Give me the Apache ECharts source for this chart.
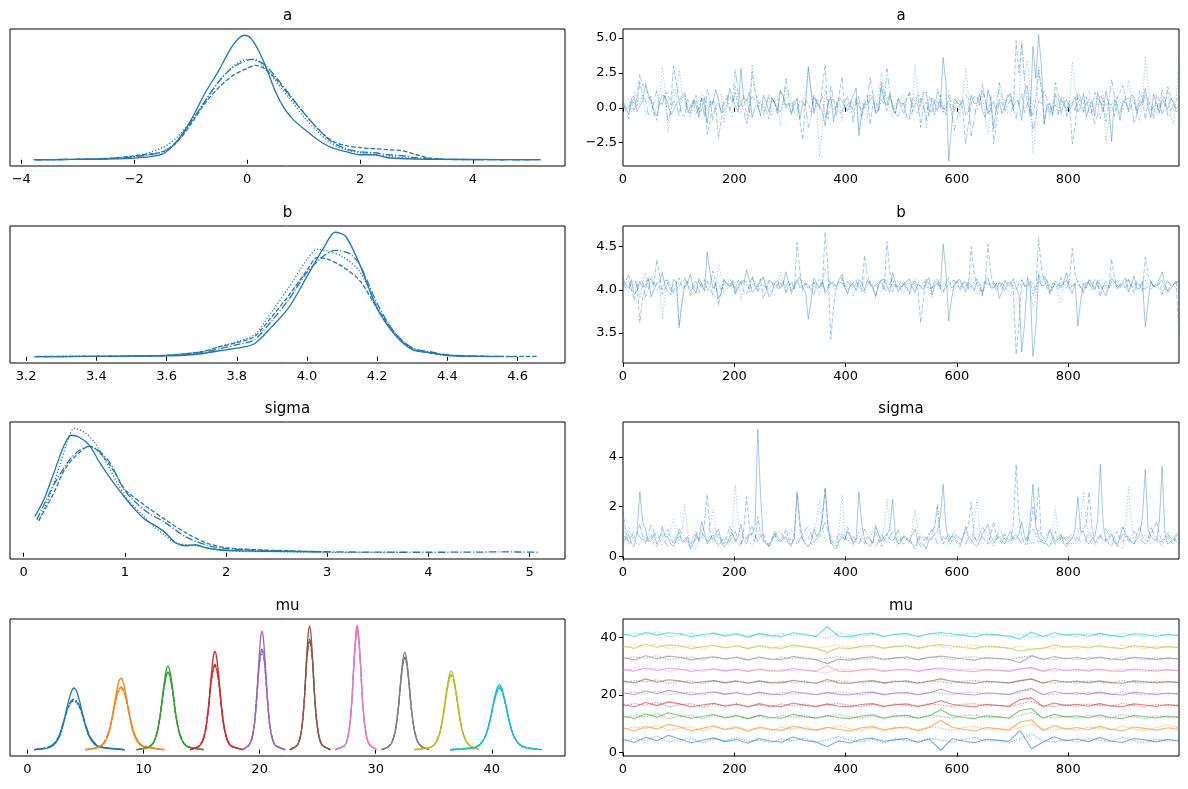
<!DOCTYPE html>
<html>
<head>
<meta charset="utf-8">
<script src="https://cdn.jsdelivr.net/npm/echarts@6/dist/echarts.min.js"></script>
<style>
html, body { margin: 0; padding: 0; background: #fff; }
#chart { width: 1188px; height: 789px; }
</style>
</head>
<body>
<div id="chart"></div>
<script>
var C0 = '#1f77b4';
var tab10 = ['#1f77b4', '#ff7f0e', '#2ca02c', '#d62728', '#9467bd', '#8c564b', '#e377c2', '#7f7f7f', '#bcbd22', '#17becf'];
// solid, dashed, dotted, dash-dot  (one per chain)
var chainDash = ['solid', [4.5, 2], [1.2, 2], [7.5, 2, 1.2, 2]];

// tick values
var aKdeTicks = [-4, -2, 0, 2, 4];
var bKdeTicks = [3.2, 3.4, 3.6, 3.8, 4.0, 4.2, 4.4, 4.6];
var sigmaKdeTicks = [0, 1, 2, 3, 4, 5];
var muKdeTicks = [0, 10, 20, 30, 40];
var drawTicks = [0, 200, 400, 600, 800];
var aTraceTicks = [-2.5, 0, 2.5, 5];
var bTraceTicks = [3.5, 4.0, 4.5];
var sigmaTraceTicks = [0, 2, 4];
var muTraceTicks = [0, 20, 40];

// ---- KDE per chain, [value, density] (relative units) ----
var aKde = [
  [[-3.78,0],[-3,0.3],[-2.5,0.7],[-2,1.7],[-1.5,5.7],[-1.25,18],[-1,39],[-0.75,66],[-0.5,89],[-0.3,110],[-0.15,121],[-0.05,124],[0.05,122],[0.2,109],[0.35,90],[0.5,68],[0.65,52],[0.8,41],[1,31],[1.25,20],[1.5,12],[1.75,8],[2,5],[2.25,5],[2.5,2],[3,0.7],[4,0.3],[5.2,0]],
  [[-3.7,0],[-3,0.5],[-2.5,1],[-2,4],[-1.5,8],[-1.25,17],[-1,35],[-0.75,56],[-0.5,72],[-0.25,84],[0,91],[0.15,94],[0.3,91],[0.5,81],[0.75,64],[1,47],[1.25,31],[1.5,19],[1.75,14],[2,12],[2.25,11],[2.5,10],[2.75,9],[3,5],[3.25,1.5],[3.5,0.5],[4,0.2],[4.6,0]],
  [[-3.6,0],[-3,0.5],[-2.5,1.5],[-2,3.5],[-1.5,12],[-1.25,22],[-1,38],[-0.75,58],[-0.5,78],[-0.25,93],[0,100],[0.1,100],[0.3,93],[0.5,79],[0.75,61],[1,43],[1.25,28],[1.5,16],[1.75,10],[2,7],[2.5,3.5],[3,1],[3.5,0.3],[4.2,0]],
  [[-3.75,0],[-3,0.5],[-2.5,1],[-2,3],[-1.5,8],[-1.25,18],[-1,37],[-0.75,58],[-0.5,78],[-0.25,92],[0,99],[0.1,100],[0.3,95],[0.5,83],[0.75,65],[1,47],[1.25,31],[1.5,18],[1.75,11],[2,8],[2.25,7],[2.5,5],[2.75,4],[3,2],[3.5,0.5],[4,0.2],[5,0]]
];
var bKde = [
  [[3.223,0],[3.3,0.2],[3.4,0.4],[3.5,0.6],[3.6,1],[3.65,1.5],[3.7,3],[3.75,6],[3.8,8.5],[3.85,13],[3.9,30],[3.95,50],[4,80],[4.05,110],[4.08,124],[4.11,120],[4.15,92],[4.2,48],[4.25,22],[4.3,7],[4.35,4],[4.4,1.5],[4.45,0.6],[4.53,0.2]],
  [[3.23,0.3],[3.4,0.5],[3.5,0.8],[3.6,1.5],[3.7,5],[3.75,10],[3.8,14],[3.85,20],[3.9,40],[3.95,62],[4,86],[4.03,99],[4.06,97],[4.1,90],[4.15,76],[4.2,48],[4.25,24],[4.3,8],[4.35,4],[4.4,1.5],[4.5,0.5],[4.66,0.3]],
  [[3.25,0],[3.4,0.4],[3.5,0.8],[3.6,1.5],[3.7,5],[3.75,10],[3.8,15],[3.85,22],[3.9,45],[3.95,70],[4,97],[4.03,107],[4.06,105],[4.1,100],[4.15,85],[4.2,50],[4.25,22],[4.3,8],[4.35,4],[4.4,1.3],[4.5,0.3]],
  [[3.25,0.2],[3.4,0.4],[3.5,0.7],[3.6,1.2],[3.7,4],[3.75,8],[3.8,12],[3.85,17],[3.9,36],[3.95,58],[4,84],[4.05,101],[4.08,106],[4.12,103],[4.15,92],[4.2,53],[4.25,24],[4.3,9],[4.35,5],[4.4,2],[4.5,0.5],[4.6,0.2]]
];
var sigmaKde = [
  [[0.11,36],[0.2,53],[0.3,80],[0.4,107],[0.47,117],[0.55,115],[0.65,107],[0.75,90],[0.9,68],[1,55],[1.1,43],[1.2,33],[1.3,27],[1.4,20],[1.5,10],[1.6,7],[1.7,8],[1.8,5],[2,2.3],[2.5,1.3],[2.94,0.8]],
  [[0.15,32],[0.3,60],[0.4,82],[0.5,95],[0.6,104],[0.65,106],[0.75,100],[0.9,80],[1,63],[1.2,47],[1.4,33],[1.6,20],[1.8,10],[2,5],[2.3,3],[2.6,2],[3,0.8]],
  [[0.15,32],[0.25,55],[0.35,85],[0.43,110],[0.5,124],[0.6,120],[0.7,110],[0.8,93],[1,57],[1.2,35],[1.3,25],[1.4,17],[1.5,10],[1.7,7],[2,2],[2.5,1],[3,0.5],[3.8,0.3]],
  [[0.13,33],[0.3,68],[0.45,92],[0.55,102],[0.65,106],[0.75,101],[0.85,90],[1,62],[1.2,42],[1.4,30],[1.6,16],[1.8,8],[2,4],[2.5,2],[3,1],[3.5,0.6],[4,0.5],[4.5,0.7],[4.7,0.9],[5.1,0.5]]
];

// mu: one x grid per element, four chains of densities
var mu0X = [0.6, 1.75, 2.28, 2.73, 3.1, 3.48, 3.78, 4.0, 4.23, 4.53, 4.9, 5.28, 5.73, 6.25, 8.4];
var mu0Kde = [[0,1.9,5,12.4,26,46,58,62,59,47,28,14,6,2.5,0],[0,2.2,6,14,27,42,48,50,48,42,29,16,7,3,0],[0,2,5.5,13,27,41,47,49,47,41,28,15,7,2.8,0],[0,2.3,6,14,28,43,49,51,49,43,30,16,7.5,3,0]];
var mu1X = [5.0, 6.1, 6.55, 6.95, 7.27, 7.6, 7.85, 8.05, 8.25, 8.5, 8.83, 9.15, 9.55, 10.0, 11.8];
var mu1Kde = [[0,2.2,5.8,14.4,30,53,68,72,68,54,32,16,7,3,0],[0,2.5,6.5,16,31,50,59,62,60,51,33,18,8,3.5,0],[0,2.4,6.3,15,30,49,58,61,59,50,32,17,7.5,3.2,0],[0,2.6,6.6,16,31,50,60,63,61,51,33,18,8,3.4,0]];
var mu2X = [9.4, 10.45, 10.84, 11.17, 11.44, 11.72, 11.94, 12.1, 12.27, 12.49, 12.76, 13.04, 13.37, 13.75, 15.2];
var mu2Kde = [[0,2.5,6.7,16.8,35,62,79,84,79,63,37,19,8,3.2,0],[0,2.8,7.2,17.5,35,59,73,78,74,60,36,19,8.5,3.4,0],[0,2.7,7,17,34,58,72,77,73,59,35,18.5,8.2,3.3,0],[0,2.8,7.3,18,35,59,74,78,74,60,36,19,8.6,3.5,0]];
var mu3X = [14.0, 14.74, 15.07, 15.35, 15.59, 15.82, 16.0, 16.15, 16.29, 16.48, 16.71, 16.95, 17.23, 17.56, 18.6];
var mu3Kde = [[0,3,7.9,19.8,41.6,73,93,99,93,74,43,22,9,3.5,0],[0,3.3,8.6,21,42,68,81,85,82,69,43,22,9.5,3.8,0],[0,3.2,8.4,20.5,41,67,80,84,81,68,42,21.5,9.2,3.7,0],[0,3.4,8.8,21,42,68,81,86,82,69,43,22.5,9.6,3.9,0]];
var mu4X = [18.5, 19.03, 19.3, 19.54, 19.73, 19.93, 20.08, 20.2, 20.32, 20.47, 20.67, 20.86, 21.1, 21.37, 22.2];
var mu4Kde = [[0,3.6,9.5,24,50,88,112,119,112,89,52,26,10.5,4,0],[0,4,10.5,25,50,81,96,100,97,82,51,26,11,4.5,0],[0,4,10.3,24.5,49,79,93,97,94,80,50,25.5,10.8,4.3,0],[0,4.1,10.6,25,50,81,96,101,97,82,51,26,11,4.5,0]];
var mu5X = [22.6, 23.19, 23.45, 23.67, 23.86, 24.04, 24.19, 24.3, 24.41, 24.56, 24.74, 24.93, 25.15, 25.41, 26.1];
var mu5Kde = [[0,3.7,9.9,24.8,52,92,117,124,117,92,53,27,11,4.2,0],[0,4,10.8,26,52,88,104,110,105,88,53,27,11.5,4.5,0],[0,4,10.6,25.5,51,87,103,109,104,87,52,26.5,11.3,4.4,0],[0,4.1,10.9,26,52,88,105,111,106,89,53,27,11.6,4.6,0]];
var mu6X = [26.5, 27.29, 27.55, 27.77, 27.96, 28.14, 28.29, 28.4, 28.51, 28.66, 28.84, 29.03, 29.25, 29.51, 30.1];
var mu6Kde = [[0,3.8,10,25,52.5,92.5,117.5,125,117.5,93,54,27,11,4.2,0],[0,3.9,10.3,25.5,52,90,113,120,114,91,53,27,11.2,4.4,0],[0,3.9,10.2,25.3,52,89,112,119,113,90,53,26.8,11.1,4.3,0],[0,4,10.4,25.6,52,90,113,121,114,91,53.5,27.2,11.3,4.5,0]];
var mu7X = [30.5, 31.09, 31.42, 31.7, 31.94, 32.17, 32.36, 32.5, 32.64, 32.83, 33.06, 33.3, 33.58, 33.91, 34.6];
var mu7Kde = [[0,2.9,7.8,19.6,41,72.5,92,98,92,73,42,21,8.8,3.4,0],[0,3.1,8.2,20.5,41,70,88,93,88,71,42,21.5,9,3.6,0],[0,3,8,20,40.5,69,87,92,87,70,41.5,21,8.9,3.5,0],[0,3.1,8.3,20.6,41.5,70,88,94,89,71,42,21.6,9.1,3.6,0]];
var mu8X = [33.3, 34.73, 35.14, 35.5, 35.79, 36.09, 36.32, 36.5, 36.68, 36.91, 37.21, 37.5, 37.86, 38.27, 38.9];
var mu8Kde = [[0,2.4,6.3,15.8,33,58,74,79,74,59,34,17,7,2.8,0],[0,2.6,6.7,16.5,33,56,70.5,75,71,57,34,17.3,7.3,3,0],[0,2.5,6.6,16.2,32.5,55,70,74,70,56,33.5,17,7.2,2.9,0],[0,2.6,6.8,16.6,33,56,71,75.5,71,57,34,17.4,7.4,3,0]];
var mu9X = [36.4, 38.49, 38.99, 39.43, 39.79, 40.15, 40.43, 40.65, 40.87, 41.15, 41.51, 41.87, 42.31, 42.81, 44.3];
var mu9Kde = [[0,2,5.2,13,27.3,48,61,65,61,48.5,28,14,6,2.4,0],[0,2.1,5.5,13.5,27,46,58,62,58.5,47,28,14.3,6.1,2.5,0],[0,2.1,5.4,13.3,27,45.5,57.5,61,58,46.5,27.5,14,6,2.4,0],[0,2.2,5.6,13.6,27.3,46.5,58.5,62.5,59,47,28.2,14.4,6.2,2.5,0]];

// ---- traces: thinned draws, 4 chains; "B" arrays are the draws half a step later ----
var aTrace = [
  [0.2,-0.5,0.8,0.1,1.6,0.4,-0.6,0.9,0.3,-0.2,0.5,1.1,-0.4,0.2,0.7,-1.1,0.3,0.6,-0.2,1.4,0.1,2.8,0.5,-0.7,0.2,0.9,-0.3,0.4,1.2,0.0,-0.5,0.6,0.3,2.9,-0.4,0.1,-1.3,0.8,0.2,0.5,-0.2,0.9,-2.0,0.3,0.6,-0.4,1.5,0.2,-0.1,0.7,0.3,-0.8,0.5,0.1,1.1,-0.3,0.4,3.6,-3.8,0.6,0.2,-0.5,0.9,0.3,-0.2,1.3,-1.5,0.4,0.1,0.8,0.5,-0.9,1.6,4.4,5.2,-1.2,0.3,0.9,-0.4,0.6,0.2,-0.3,1.0,0.1,-0.6,0.4,1.2,-2.4,0.3,0.5,-0.2,0.8,0.1,1.4,-0.7,0.3,0.6,-0.1,0.4,0.2],
  [0.5,0.1,-0.3,2.4,1.8,0.7,-0.9,0.3,1.0,3.0,0.4,-0.6,0.2,0.9,-0.2,-1.9,0.6,-2.2,0.3,0.8,1.1,0.2,-0.5,2.6,0.4,0.1,-0.8,0.5,1.3,0.2,-0.4,0.7,-2.3,0.3,0.9,-0.1,3.1,0.4,-0.6,2.2,0.2,-0.3,0.8,0.1,-1.2,0.5,1.9,-0.2,0.3,0.6,-0.5,1.0,0.2,-1.4,0.4,0.7,-0.3,0.1,0.9,-0.2,0.5,-2.6,0.3,0.8,1.7,-0.4,-2.6,0.6,0.2,1.1,4.8,4.6,0.4,-0.5,2.7,-1.1,0.3,1.8,0.6,-0.2,-2.6,0.8,0.3,-0.4,1.1,0.5,-1.0,0.2,0.7,1.6,-0.3,0.4,1.2,-0.8,0.2,0.9,-0.5,1.5,0.3,-0.1],
  [-0.2,0.6,1.2,0.3,-0.5,0.9,0.1,2.9,-1.8,1.4,2.8,0.3,-0.7,0.5,1.1,-0.2,0.4,0.8,-1.1,0.2,1.6,-0.4,0.7,3.1,0.1,-0.3,0.9,0.4,-1.3,1.5,0.2,-0.6,0.5,2.9,-0.2,-3.5,1.3,0.6,0.1,-0.9,0.7,0.2,-1.6,0.4,1.0,-0.3,2.5,0.5,-0.7,0.3,0.9,-0.2,3.1,0.4,-1.5,0.7,0.1,-0.4,1.2,0.3,-0.6,2.8,0.5,-0.2,0.9,-1.9,0.3,1.4,0.6,-0.5,1.0,4.8,3.4,-3.3,2.9,0.5,-0.6,1.1,0.2,-0.3,3.3,0.6,-0.4,1.2,0.1,-0.8,-2.5,0.4,0.8,-0.2,2.0,0.5,-1.0,3.7,0.3,-0.5,0.9,1.3,-1.2,3.7],
  [0.4,-0.8,0.3,1.9,0.6,-0.3,1.2,0.2,-1.0,0.5,-0.6,0.9,0.1,-0.4,0.7,1.3,-0.9,0.3,0.5,-0.2,2.7,0.4,-1.2,0.8,0.1,-0.5,1.0,0.3,-0.3,2.1,0.6,-0.1,0.4,-1.4,0.9,0.2,-0.7,1.6,0.4,-0.3,0.8,-1.1,0.2,0.5,2.2,-0.4,0.6,2.8,0.1,-0.6,0.3,1.1,-0.2,0.7,-0.9,0.4,1.4,-0.3,0.5,-1.6,0.2,0.9,-2.0,0.3,1.2,-0.5,0.4,1.8,-0.2,0.6,-0.8,1.0,0.3,-1.7,0.5,1.3,-0.4,0.2,0.8,-0.6,0.4,1.2,-0.3,0.6,-1.2,0.9,0.1,2.0,-0.5,0.3,0.7,-1.1,0.5,1.0,-0.2,0.4,1.3,-0.6,0.2,0.8]
];
var aTraceB = [
  [0.1,0.7,-0.3,0.5,1.0,-0.2,0.4,0.8,-0.5,0.3,0.9,-0.1,0.6,-0.7,0.2,0.5,1.3,-0.4,0.1,0.8,-0.3,0.6,1.1,0.0,-0.6,0.4,0.7,-0.2,0.9,0.3,0.5,-0.8,0.2,1.2,0.6,-0.3,0.4,-1.0,0.7,0.1,0.3,1.4,-0.5,0.2,0.8,-0.1,0.5,1.0,-0.4,0.3,-0.6,0.7,0.2,1.1,-0.2,0.6,0.0,1.8,-1.4,0.4,0.6,-0.3,0.3,1.0,-0.7,0.5,0.2,-0.4,0.9,0.1,0.4,1.2,-0.6,2.1,3.0,0.2,-0.5,0.7,0.3,-0.2,0.8,0.1,-0.7,0.5,1.1,-0.3,0.2,0.6,-0.9,0.4,0.9,-0.2,0.5,0.0,1.0,-0.4,0.3,0.7,-0.1,0.5],
  [-0.2,0.4,0.9,1.6,0.7,-0.4,0.3,1.1,0.2,1.8,-0.5,0.6,0.1,-0.3,0.8,-1.0,0.2,-0.9,0.7,0.4,0.0,0.9,-0.6,1.2,0.3,-0.2,0.5,-0.5,0.8,0.4,0.1,-1.0,0.6,-0.3,0.4,1.5,-0.8,0.7,1.0,-0.1,0.5,0.2,-0.7,0.9,0.3,-0.2,0.6,0.8,-0.4,0.1,0.7,-0.3,1.0,0.2,-0.6,0.4,0.9,-0.5,0.3,0.6,-0.1,-1.2,0.8,0.2,0.5,0.9,-1.1,0.3,0.7,-0.2,2.5,1.9,-0.4,0.6,1.4,0.1,-0.5,0.9,0.2,0.5,-1.3,0.4,0.8,-0.3,0.6,0.0,0.3,-0.6,1.1,0.7,0.2,-0.4,0.6,0.3,-0.8,0.5,0.1,0.8,-0.3,0.4],
  [0.5,-0.3,0.4,0.9,0.1,-0.6,0.6,1.3,-0.4,0.8,1.2,-0.2,0.3,-0.5,0.7,0.2,-0.3,1.0,0.4,-0.7,0.6,0.3,-0.4,1.4,0.5,0.1,-0.6,0.8,0.2,0.7,-0.3,0.5,0.9,1.1,0.2,-1.5,0.4,-0.2,0.6,0.3,-0.4,0.8,0.1,-0.8,0.5,0.9,1.2,-0.1,0.3,0.6,0.2,-0.5,1.3,0.7,-0.3,0.2,0.5,0.9,-0.6,0.4,0.8,1.0,-0.2,0.4,-0.7,0.3,0.6,0.1,-0.4,0.7,0.3,2.2,1.5,-1.4,1.2,0.0,0.5,-0.3,0.8,0.4,1.4,-0.1,0.6,-0.5,0.3,0.9,-1.0,0.2,0.5,0.7,0.9,-0.3,0.4,1.6,-0.2,0.6,0.1,-0.6,0.5,1.8],
  [-0.3,0.6,0.1,0.8,-0.5,0.4,0.2,0.9,-0.2,0.3,0.7,-0.4,0.5,0.0,-0.7,0.6,0.2,-0.3,0.9,0.4,1.1,-0.2,0.3,0.6,-0.5,0.2,0.7,-0.1,0.4,0.9,-0.3,0.5,0.1,-0.6,0.3,0.8,0.0,0.6,-0.4,0.5,0.2,0.7,-0.3,0.4,1.0,-0.2,0.3,1.2,-0.5,0.1,0.6,0.3,-0.4,0.2,0.8,-0.6,0.5,0.1,-0.2,-0.8,0.4,0.7,-0.9,0.5,0.6,0.0,-0.3,0.9,0.2,-0.1,0.5,-0.4,0.8,-0.7,0.3,0.6,0.1,-0.5,0.4,0.2,-0.2,0.7,0.3,-0.4,-0.5,0.5,0.4,0.9,-0.3,0.6,0.3,-0.5,0.2,0.7,0.1,-0.3,0.6,-0.2,0.5,0.3]
];
var bTrace = [
  [4.15,4.02,3.95,4.10,4.05,3.92,4.08,4.20,3.98,4.12,3.58,4.05,4.18,3.96,4.07,4.44,4.02,3.90,4.12,4.04,3.95,4.10,4.23,3.97,4.06,4.15,3.92,4.08,4.02,4.21,3.99,4.10,4.03,3.66,4.14,4.02,3.96,4.09,4.05,4.18,3.95,4.07,4.12,4.00,4.08,3.93,4.11,4.05,4.20,3.98,4.06,4.13,3.97,4.04,4.10,3.94,4.08,4.53,3.64,4.06,4.12,3.98,4.05,4.09,3.95,4.14,4.03,3.90,4.11,4.06,4.02,3.28,4.15,3.23,4.18,4.05,3.97,4.10,4.04,4.20,3.96,3.58,4.08,4.12,4.00,4.06,3.93,4.14,4.05,4.09,3.98,4.16,4.02,3.57,4.10,4.05,4.21,3.97,4.06,4.10],
  [4.05,4.18,3.88,3.62,4.02,4.12,4.35,3.95,4.08,3.98,4.14,4.03,3.92,4.10,4.06,3.99,4.22,3.82,4.07,4.13,4.00,4.09,3.95,4.16,4.04,3.90,4.11,4.06,4.02,3.96,4.10,4.55,4.01,4.07,3.94,4.12,4.67,3.43,4.05,4.14,3.97,4.08,4.03,4.40,4.06,3.91,4.12,4.56,3.98,4.05,4.10,3.95,4.07,3.62,4.13,4.02,4.08,3.96,4.14,4.04,3.99,4.11,4.50,4.06,3.93,4.53,4.05,4.10,3.98,4.07,3.25,4.12,4.03,4.08,4.60,4.10,3.95,4.06,4.14,4.02,4.48,4.08,3.97,4.11,4.04,3.92,4.10,4.36,4.01,4.07,4.12,3.96,4.05,4.38,4.09,4.03,3.95,4.12,4.06,3.45],
  [3.95,4.10,4.06,3.90,4.20,4.03,3.98,3.66,4.12,4.05,3.55,4.15,4.02,3.97,4.09,4.06,4.12,4.30,3.95,4.08,4.04,3.88,4.11,4.06,3.99,4.14,4.02,4.08,4.20,3.96,4.07,4.12,3.98,4.05,4.10,3.94,4.25,4.06,4.00,4.11,4.05,3.92,4.09,4.16,4.03,4.07,3.98,4.12,4.05,4.10,3.96,4.08,4.14,4.02,4.06,3.90,4.12,4.04,4.10,3.97,4.09,4.03,4.15,3.95,4.07,4.12,4.01,4.08,4.05,3.93,4.10,4.06,4.02,3.80,4.22,4.14,3.98,4.07,3.86,4.10,4.05,4.11,3.96,4.08,4.02,4.13,3.99,4.06,4.10,4.04,3.97,4.09,4.05,4.12,4.00,4.07,3.95,4.10,4.04,4.08],
  [4.08,3.98,4.12,4.04,3.92,4.15,4.06,4.00,4.11,3.96,4.05,4.13,3.99,4.07,4.02,4.10,3.94,4.08,4.12,4.03,3.97,4.09,4.05,4.14,3.98,4.06,4.11,4.02,4.08,4.04,3.95,4.12,4.06,4.01,4.09,4.05,3.98,4.13,4.04,4.08,4.10,4.02,4.06,3.97,4.11,4.05,4.08,4.00,4.13,4.04,4.07,3.96,4.10,4.05,4.09,4.02,4.12,3.99,4.06,4.11,4.03,4.08,4.04,4.13,3.98,4.07,4.10,4.02,4.05,4.09,4.00,4.12,4.06,3.95,4.10,4.16,4.04,4.08,4.02,4.11,4.05,4.09,4.00,4.07,4.13,3.98,4.06,4.10,4.03,4.08,4.12,4.04,4.07,4.01,4.09,4.05,4.11,3.99,4.06,4.10]
];
var bTraceB = [
  [4.05,4.12,3.98,4.03,4.14,4.00,4.09,4.04,3.94,4.10,3.85,4.08,4.02,4.13,3.99,4.20,4.06,3.96,4.08,4.11,4.02,4.07,4.12,4.00,4.10,4.04,3.97,4.11,4.06,4.09,4.03,4.15,3.98,3.88,4.07,4.10,4.01,4.05,4.12,4.03,4.06,3.99,4.08,4.11,4.02,4.06,4.13,3.97,4.09,4.04,4.10,4.03,4.07,4.00,4.14,4.05,4.01,4.22,3.90,4.11,4.04,4.09,3.99,4.07,4.12,4.02,4.08,3.98,4.05,4.13,3.95,3.60,4.03,3.55,4.05,4.12,4.01,4.06,4.10,4.03,4.08,3.88,4.02,4.07,4.11,3.99,4.05,4.09,4.02,4.14,4.06,4.01,4.10,3.86,4.04,4.12,4.07,4.01,4.09,4.05],
  [4.10,4.01,4.07,3.92,4.11,4.04,4.18,4.02,3.99,4.08,4.03,4.10,4.06,3.97,4.12,4.05,4.09,4.00,4.04,4.07,4.11,3.98,4.06,4.03,4.13,4.00,4.08,4.02,4.10,4.05,4.01,4.22,4.07,4.00,4.09,4.04,4.25,3.80,4.10,4.03,4.06,4.12,3.98,4.18,4.03,4.07,4.01,4.22,4.06,4.00,4.04,4.09,4.01,3.90,4.06,4.11,4.02,4.08,4.03,4.10,4.07,4.02,4.20,4.01,4.08,4.18,4.00,4.05,4.09,4.02,3.60,4.05,4.10,4.00,4.25,4.03,4.08,4.01,4.06,4.11,4.18,4.02,4.06,4.00,4.09,4.05,4.03,4.15,4.07,4.01,4.05,4.10,3.99,4.16,4.04,4.08,4.02,4.06,4.11,3.80],
  [4.04,3.98,4.11,4.06,4.01,4.09,4.05,3.95,4.02,4.10,3.88,4.06,4.09,4.03,3.99,4.12,4.05,4.16,4.01,4.04,4.10,4.02,3.97,4.08,4.13,4.00,4.07,4.03,4.11,4.05,4.01,4.06,4.10,3.99,4.04,4.08,4.12,4.02,4.07,4.03,4.09,4.05,4.01,4.10,4.06,4.00,4.08,4.04,4.11,4.02,4.07,4.03,4.09,4.05,4.00,4.08,4.04,4.10,4.02,4.06,4.03,4.11,4.05,4.01,4.09,4.04,4.07,4.02,3.99,4.08,4.05,4.09,4.00,3.92,4.12,4.06,4.03,3.95,4.10,4.04,4.08,4.02,4.06,4.11,4.03,4.07,4.01,4.09,4.05,4.02,4.07,4.04,4.10,4.03,4.06,4.01,4.08,4.05,4.02,4.09],
  [4.02,4.09,4.05,4.10,4.00,4.07,4.03,4.11,4.04,4.01,4.08,4.05,4.02,4.10,4.06,4.03,4.09,4.00,4.05,4.08,4.04,4.11,4.01,4.07,4.05,4.02,4.09,4.06,4.03,4.10,4.06,4.02,4.08,4.05,4.01,4.11,4.04,4.07,4.09,4.03,4.05,4.08,4.02,4.06,4.03,4.09,4.01,4.07,4.04,4.10,4.02,4.06,4.04,4.09,4.01,4.07,4.05,4.03,4.10,4.04,4.08,4.01,4.06,4.03,4.09,4.05,4.02,4.08,4.06,4.03,4.07,4.04,4.10,4.02,4.06,4.09,4.03,4.05,4.08,4.01,4.06,4.03,4.09,4.02,4.07,4.04,4.01,4.08,4.05,4.10,4.03,4.07,4.02,4.06,4.04,4.09,4.01,4.05,4.08,4.03]
];
var sigmaTrace = [
  [0.6,0.9,0.4,2.6,1.1,0.7,0.5,1.2,0.8,0.4,1.0,0.6,0.3,0.9,1.4,0.5,0.7,1.1,0.4,0.8,0.6,1.3,0.5,0.9,5.1,0.7,0.4,1.0,0.6,0.8,0.5,2.6,0.7,0.4,1.1,0.9,2.7,0.6,0.3,0.8,1.0,0.5,2.6,0.7,0.4,1.2,0.6,0.9,2.3,0.5,0.8,0.6,1.1,0.4,0.3,0.7,1.0,2.9,0.6,0.8,0.5,1.2,0.7,0.4,0.9,1.3,0.6,0.8,0.5,1.0,0.7,1.4,0.6,2.9,0.8,0.5,1.1,0.6,0.9,0.4,0.7,2.4,1.0,0.5,0.8,3.7,0.6,0.9,0.4,1.2,0.7,0.5,0.9,3.5,0.8,0.6,3.6,0.5,0.7,0.9],
  [1.8,0.5,0.8,1.3,0.6,0.9,0.4,0.7,1.1,0.5,0.8,0.6,0.4,1.0,0.7,2.5,0.6,0.9,0.5,1.2,0.7,0.4,2.4,0.8,1.6,0.6,0.5,0.9,0.7,1.1,0.4,2.5,0.6,0.8,0.5,1.0,2.8,0.7,0.4,0.9,1.2,0.6,0.8,0.5,0.7,1.0,0.4,0.9,0.6,1.1,0.5,0.7,0.3,0.8,0.6,1.0,2.1,0.5,0.9,0.7,0.4,1.1,2.2,0.6,0.8,0.5,1.4,0.7,0.9,0.6,3.7,0.8,0.5,2.0,2.8,0.6,0.4,1.0,0.7,0.5,0.8,0.6,1.1,2.6,0.5,0.9,0.7,0.4,1.0,0.6,0.8,0.5,1.2,0.7,0.9,1.4,0.6,0.8,0.5,1.0],
  [0.4,1.2,0.7,0.5,0.9,0.6,1.0,0.4,0.8,1.5,0.6,2.1,0.5,0.3,0.8,0.6,1.9,0.4,0.7,0.5,2.9,0.6,0.8,0.4,1.0,0.7,0.5,0.9,0.6,0.8,1.1,0.5,0.7,0.4,0.9,2.3,0.6,0.8,0.5,2.5,0.7,0.4,1.0,0.6,0.8,1.3,0.5,2.3,0.7,0.4,0.9,0.6,1.9,0.5,0.8,0.7,2.0,0.6,0.4,0.9,0.7,1.0,0.5,2.3,0.8,0.6,0.4,1.2,0.7,0.5,0.9,0.6,0.8,0.5,1.1,0.7,0.4,1.9,0.6,0.8,0.5,0.9,2.6,0.7,0.4,0.8,0.6,1.0,0.5,0.3,2.8,0.7,0.6,0.9,0.5,0.8,0.4,1.0,0.6,0.7],
  [0.9,0.6,1.0,0.8,0.5,1.3,0.7,0.9,0.4,0.6,1.1,0.8,0.5,0.7,1.0,0.6,0.9,0.4,0.8,0.6,1.0,0.5,0.7,1.2,0.6,0.9,0.4,0.8,1.0,0.6,0.7,0.5,0.9,1.2,0.6,0.8,1.4,0.5,0.7,1.0,0.6,0.8,0.5,1.1,0.7,0.4,0.9,0.6,1.0,0.5,0.8,0.6,0.4,0.9,0.7,1.1,0.5,0.8,0.6,1.0,0.7,0.5,0.9,0.6,1.2,0.8,0.5,1.0,0.7,0.6,0.9,0.5,0.8,1.1,0.6,0.7,1.0,0.5,0.8,0.6,0.9,0.7,0.5,1.0,0.6,0.8,1.1,0.7,0.5,0.9,0.6,1.0,0.8,0.5,1.2,0.7,0.6,0.9,0.8,0.5]
];
var sigmaTraceB = [
  [0.7,0.5,1.0,1.4,0.6,0.9,0.7,0.8,0.5,0.7,0.6,0.8,0.5,0.6,1.0,0.7,0.9,0.6,0.5,0.9,0.8,0.7,0.9,1.2,2.4,0.5,0.6,0.8,0.7,0.5,0.7,1.4,0.5,0.6,0.8,1.5,1.2,0.4,0.6,0.7,0.8,0.7,1.3,0.5,0.6,0.9,0.8,1.1,0.9,0.6,0.7,0.9,0.6,0.5,0.7,0.9,1.6,1.2,0.8,0.6,0.7,0.8,0.5,0.6,1.1,0.8,0.7,0.6,0.8,0.7,0.9,0.8,1.5,1.2,0.6,0.7,0.8,0.7,0.5,0.6,1.1,1.0,0.6,0.7,1.4,1.3,0.7,0.6,0.8,0.9,0.6,0.7,1.6,1.1,0.7,1.4,0.9,0.6,0.8,0.7],
  [1.0,0.6,0.9,0.8,0.7,0.5,0.6,0.9,0.7,0.6,0.7,0.5,0.8,0.7,1.3,1.0,0.7,0.6,0.8,0.9,0.5,1.1,1.2,0.6,0.9,0.5,0.7,0.6,0.8,0.7,0.9,1.1,0.7,0.5,0.8,1.6,1.3,0.5,0.7,0.6,0.8,0.7,0.6,0.8,0.5,0.7,0.6,0.7,0.8,0.6,0.7,0.5,0.6,0.7,0.9,1.2,0.8,0.7,0.6,0.5,0.8,1.2,0.9,0.7,0.6,0.9,0.8,0.5,0.7,1.3,1.6,0.5,1.0,1.4,0.7,0.5,0.7,0.6,0.8,0.6,0.7,0.9,1.3,1.2,0.7,0.6,0.5,0.8,0.7,0.8,0.6,0.9,0.8,0.6,1.1,0.9,0.7,0.6,0.9,0.7],
  [0.8,0.9,0.5,0.7,0.6,0.8,0.7,0.6,1.1,0.9,1.0,1.0,0.4,0.6,0.7,1.2,1.0,0.6,0.5,1.3,1.4,0.7,0.6,0.7,0.8,0.6,0.7,0.7,0.7,0.9,0.8,0.6,0.5,0.6,1.5,1.3,0.7,0.6,1.2,1.0,0.5,0.7,0.8,0.7,1.0,0.9,1.2,1.1,0.5,0.6,0.7,1.1,1.0,0.6,0.7,1.2,0.9,0.5,0.6,0.8,0.8,0.7,1.2,1.1,0.7,0.5,0.8,0.9,0.6,0.7,0.7,0.7,0.6,0.8,0.9,0.5,1.1,1.0,0.7,0.6,0.6,1.4,1.3,0.5,0.6,0.7,0.8,0.7,0.4,1.2,1.5,0.6,0.7,0.8,0.6,0.6,0.7,0.8,0.7,0.6],
  [0.7,0.8,0.9,0.6,0.9,1.0,0.8,0.6,0.5,0.8,0.9,0.6,0.6,0.9,0.8,0.7,0.6,0.6,0.7,0.8,0.7,0.8,1.0,0.9,0.8,0.6,0.6,1.0,0.8,0.7,0.6,0.7,1.1,0.9,0.7,1.1,1.0,0.6,0.9,0.8,0.7,0.6,0.8,0.9,0.5,0.6,0.7,0.8,0.7,0.7,0.7,0.5,0.7,0.8,0.9,0.8,0.6,0.7,0.8,0.8,0.6,0.7,0.8,0.9,1.0,0.6,0.7,0.9,0.6,0.8,0.7,0.6,1.0,0.9,0.6,0.9,0.7,0.6,0.7,0.8,0.8,0.6,0.7,0.8,0.7,1.0,0.9,0.6,0.7,0.8,0.8,0.9,0.6,0.7,0.9,0.6,0.8,0.7,0.6,0.7]
];
// mu traces, 2 chains per element
var mu0Trace = [[4.6,3.5,5.3,4.1,6.0,4.7,3.4,4.3,5.1,3.8,4.5,3.2,4.9,4.0,3.6,5.4,4.2,3.7,2.0,4.1,3.3,4.6,5.0,3.9,4.4,4.9,3.5,4.7,0.8,4.8,4.0,3.4,4.6,4.3,3.9,7.6,1.3,3.6,5.5,4.1,4.7,3.8,5.2,4.0,3.5,4.9,4.4,3.7,4.6,3.9],[3.8,4.9,4.2,5.7,3.6,4.4,5.0,3.3,4.7,4.1,5.2,3.9,4.3,3.5,4.8,4.0,5.1,3.6,4.4,5.6,4.2,3.7,4.5,3.4,4.9,4.1,3.8,5.0,4.3,3.6,4.6,5.2,3.9,4.2,3.5,4.8,6.4,4.0,3.7,4.5,3.6,4.9,4.2,3.8,5.3,4.1,3.5,4.6,4.0,4.4]];
var mu1Trace = [[8.6,7.5,9.1,8.2,9.8,8.9,7.6,8.4,9.3,7.9,8.7,7.4,8.9,8.1,7.7,9.2,8.3,7.8,8.8,8.0,7.5,8.6,9.0,7.9,8.5,8.9,7.6,8.7,11.2,8.8,8.1,7.5,8.7,8.3,7.9,10.6,11.4,7.7,9.4,8.2,8.7,7.9,9.1,8.1,7.6,8.9,8.4,7.8,8.6,8.0],[7.9,8.9,8.3,9.5,7.7,8.5,9.0,7.4,8.8,8.2,9.1,7.9,8.4,7.6,8.8,8.1,9.0,7.7,8.5,9.2,8.3,7.8,8.6,7.5,8.9,8.2,7.9,9.0,8.4,7.7,8.7,9.1,8.0,8.3,7.6,8.8,9.9,8.1,7.8,8.6,7.7,8.9,8.3,7.9,9.2,8.2,7.6,8.7,9.6,8.5]];
var mu2Trace = [[12.7,11.8,13.4,12.3,13.8,12.9,11.9,12.5,13.2,12.0,12.8,11.7,13.0,12.2,11.9,13.3,12.4,12.0,12.9,12.1,11.8,12.7,13.1,12.0,12.6,13.0,11.9,12.8,14.9,12.9,12.2,11.8,12.8,12.4,12.0,14.6,15.3,11.9,13.3,12.3,12.8,12.0,13.1,12.2,11.8,12.9,12.5,12.0,12.7,12.1],[12.0,13.0,12.4,13.6,11.8,12.6,13.1,11.7,12.9,12.3,13.1,12.0,12.5,11.8,12.9,12.2,13.0,11.9,12.6,13.2,12.4,12.0,12.7,11.7,13.0,12.3,12.0,13.1,12.5,11.9,12.8,13.1,12.1,12.4,11.8,12.9,14.0,12.2,12.0,12.7,11.9,13.0,12.4,12.0,13.2,12.3,11.8,12.8,12.1,12.6]];
var mu3Trace = [[16.7,15.9,17.4,16.3,17.6,16.9,15.9,16.5,17.1,16.1,16.8,15.8,17.0,16.2,16.0,17.2,16.4,16.0,16.9,16.1,15.9,16.7,17.0,16.1,16.6,16.9,16.0,16.8,18.0,16.8,16.2,15.9,16.8,16.4,16.1,18.4,19.0,16.0,17.2,16.3,16.8,16.1,17.0,16.2,15.9,16.9,16.5,16.0,16.7,16.2],[16.1,17.0,16.4,17.5,15.9,16.6,17.0,15.8,16.9,16.3,17.0,16.1,16.5,15.9,16.9,16.2,16.9,16.0,16.6,17.1,16.4,16.0,16.7,15.8,16.9,16.3,16.1,17.0,16.5,16.0,16.8,17.0,16.2,16.4,15.9,16.9,17.8,16.2,16.0,16.7,16.0,16.9,16.4,16.1,17.1,16.3,15.9,16.8,16.2,16.6]];
var mu4Trace = [[20.8,20.1,21.5,20.4,21.6,20.9,20.1,20.6,21.1,20.2,20.8,20.0,21.0,20.3,20.1,21.2,20.5,20.1,20.9,20.2,20.0,20.7,21.0,20.2,20.6,20.9,20.1,20.8,22.0,20.8,20.3,20.0,20.8,20.5,20.2,21.4,22.3,20.1,21.2,20.4,20.8,20.2,21.0,20.3,20.0,20.9,20.6,20.1,20.7,20.3],[20.2,21.0,20.5,21.4,20.0,20.6,21.0,19.9,20.9,20.4,21.0,20.2,20.6,20.0,20.9,20.3,20.9,20.1,20.6,21.1,20.5,20.1,20.7,19.9,20.9,20.4,20.2,21.0,20.6,20.1,20.8,21.0,20.3,20.5,20.0,20.9,21.9,20.3,20.1,20.7,20.1,20.9,20.5,20.2,21.1,20.4,20.0,20.8,20.3,20.6]];
var mu5Trace = [[24.8,24.2,25.6,24.4,25.3,24.9,24.1,24.6,25.0,24.2,24.8,24.1,24.9,24.3,24.2,25.1,24.5,24.1,25.4,24.2,24.0,24.7,25.0,24.2,24.6,24.9,24.1,24.8,25.6,24.8,24.3,24.0,24.8,24.5,24.2,25.0,25.6,24.1,25.1,24.4,24.8,24.2,24.9,24.3,24.1,24.9,24.6,24.2,24.7,24.3],[24.2,25.0,24.5,25.3,24.1,24.6,24.9,24.0,24.9,24.4,25.0,24.2,24.6,24.1,24.8,24.3,24.9,24.1,24.6,25.0,24.5,24.2,24.7,24.0,24.9,24.4,24.2,24.9,24.6,24.1,24.8,25.0,24.3,24.5,24.1,24.8,25.5,24.3,24.2,24.7,24.1,24.9,24.5,24.2,25.0,24.4,24.1,24.8,24.3,24.6]];
var mu6Trace = [[28.9,28.3,29.4,28.5,29.3,29.0,28.2,28.7,29.1,28.3,28.9,28.2,29.0,28.4,28.3,29.2,28.6,28.2,30.2,28.3,28.1,28.8,29.1,28.3,28.7,29.0,28.2,28.9,29.4,28.9,28.4,28.1,28.9,28.6,28.3,29.1,29.5,28.2,29.2,28.5,28.9,28.3,29.0,28.4,28.2,29.0,28.7,28.3,28.8,28.4],[28.3,29.1,28.6,29.5,28.2,28.7,29.0,28.1,29.0,28.5,29.1,28.3,28.7,28.2,28.9,28.4,29.0,28.2,27.6,29.1,28.6,28.3,28.8,28.1,29.0,28.5,28.3,29.0,28.7,28.2,28.9,29.1,28.4,28.6,28.2,28.9,29.4,28.4,28.3,28.8,28.2,29.0,28.6,28.3,29.1,28.5,28.2,28.9,28.4,28.7]];
var mu7Trace = [[33.0,32.2,33.6,32.6,33.5,33.1,32.2,32.8,33.3,32.4,33.0,32.1,33.2,32.5,32.3,33.4,32.7,32.3,30.9,32.4,32.1,32.9,33.3,32.4,32.8,33.2,32.2,33.0,33.5,33.0,32.5,32.1,33.0,32.7,32.4,31.2,33.6,32.3,33.4,32.6,33.0,32.4,33.2,32.5,32.2,33.1,32.8,32.3,32.9,32.5],[32.4,33.3,32.7,33.7,32.2,32.8,33.2,32.1,33.1,32.6,33.3,32.4,32.8,32.2,33.1,32.5,33.2,32.3,32.8,33.3,32.7,32.3,32.9,32.1,33.1,32.6,32.4,33.2,32.8,32.3,33.0,33.3,32.5,32.7,32.2,33.0,33.7,32.5,32.3,32.9,32.2,33.1,32.7,32.4,33.3,32.6,32.2,33.0,32.5,32.8]];
var mu8Trace = [[37.0,36.2,37.6,36.6,37.4,37.1,36.1,36.8,37.3,36.3,37.0,36.1,37.2,36.5,36.2,37.4,36.7,36.2,34.8,36.4,36.1,36.9,37.3,36.3,36.8,37.2,36.2,37.0,37.5,37.0,36.5,36.1,37.0,36.7,36.3,35.2,36.0,36.2,37.4,36.6,37.0,36.3,37.2,36.5,36.1,37.1,36.8,36.2,36.9,36.4],[36.4,37.3,36.7,37.8,36.1,36.8,37.2,36.0,37.1,36.6,37.3,36.3,36.8,36.1,37.1,36.5,37.2,36.2,36.8,37.4,36.7,36.3,36.9,36.0,37.1,36.6,36.3,37.2,36.8,36.2,37.0,37.4,36.5,36.7,36.1,37.0,35.6,36.5,36.2,36.9,36.1,37.1,36.7,36.3,37.3,36.6,36.1,37.0,36.4,36.8]];
var mu9Trace = [[41.2,40.3,41.8,40.8,41.6,41.3,40.2,41.0,41.5,40.4,41.2,40.1,41.4,40.7,40.3,41.6,40.9,40.3,43.8,40.5,40.2,41.1,41.5,40.4,41.0,41.4,40.3,41.2,41.7,41.2,40.7,40.2,41.2,40.9,40.4,39.4,41.9,40.3,41.6,40.8,41.2,40.4,41.4,40.7,40.2,41.3,41.0,40.3,41.1,40.5],[40.5,41.5,40.9,42.0,40.2,41.0,41.4,40.1,41.3,40.8,41.5,40.4,41.0,40.2,41.3,40.7,41.4,40.3,39.6,41.6,40.9,40.4,41.1,40.1,41.3,40.8,40.4,41.4,41.0,40.3,41.2,41.6,40.7,40.9,40.2,41.2,40.0,40.6,40.3,41.1,40.2,41.3,40.9,40.4,41.5,40.8,40.2,41.2,40.5,41.0]];

var muX = [mu0X, mu1X, mu2X, mu3X, mu4X, mu5X, mu6X, mu7X, mu8X, mu9X];
var muKde = [mu0Kde, mu1Kde, mu2Kde, mu3Kde, mu4Kde, mu5Kde, mu6Kde, mu7Kde, mu8Kde, mu9Kde];
var muTrace = [mu0Trace, mu1Trace, mu2Trace, mu3Trace, mu4Trace, mu5Trace, mu6Trace, mu7Trace, mu8Trace, mu9Trace];

// ---------------- layout ----------------
var FONT = 'DejaVu Sans';
var rowTop = [29, 226, 422, 619];
var panelH = 137;
var names = ['a', 'b', 'sigma', 'mu'];

function fmt(v, dec) {
    var s = dec ? v.toFixed(dec) : String(v);
    return s.replace('-', '\u2212');
}

var grids = [], xAxes = [], yAxes = [], series = [], graphics = [];

function addPanel(row, right, xr, xTicks, xDec, yr, yTicks, yDec) {
    var gi = grids.length;
    grids.push({
        left: right ? 623 : 10, width: right ? 556 : 555,
        top: rowTop[row], height: panelH,
        show: true, borderColor: '#000', borderWidth: 1, containLabel: false
    });
    xAxes.push({
        type: 'value', gridIndex: gi, min: xr[0], max: xr[1],
        axisLine: {show: false}, splitLine: {show: false},
        axisTick: {show: true, length: 4, customValues: xTicks, lineStyle: {color: '#000'}},
        axisLabel: {
            customValues: xTicks, margin: 7, color: '#000', fontFamily: FONT, fontSize: 13,
            formatter: function (v) { return fmt(v, xDec); }
        }
    });
    var y = {
        type: 'value', gridIndex: gi, min: yr[0], max: yr[1],
        axisLine: {show: false}, splitLine: {show: false}
    };
    if (yTicks) {
        y.axisTick = {show: true, length: 4, customValues: yTicks, lineStyle: {color: '#000'}};
        y.axisLabel = {
            customValues: yTicks, margin: 6, color: '#000', fontFamily: FONT, fontSize: 13,
            formatter: function (v) { return fmt(v, yDec); }
        };
    } else {
        y.axisTick = {show: false};
        y.axisLabel = {show: false};
    }
    yAxes.push(y);
    graphics.push({
        type: 'text', x: right ? 901 : 287.5, y: rowTop[row] - 13,
        style: {text: names[row], font: '15px "' + FONT + '"', fill: '#000', textAlign: 'center', textVerticalAlign: 'middle'}
    });
    return gi;
}

function line(gi, data, color, dash, width, opacity, smooth) {
    return {
        type: 'line', xAxisIndex: gi, yAxisIndex: gi, data: data,
        showSymbol: false, symbol: 'none', silent: true, smooth: smooth || false,
        lineStyle: {color: color, width: width, type: dash, opacity: opacity}
    };
}

// draw index of each thinned sample; second array (if any) sits half a step later
function tracePoints(vals, later) {
    var step = 999 / (vals.length - 1);
    var pts = [];
    vals.forEach(function (v, i) {
        pts.push([i * step, v]);
        if (later && i * step + step / 2 <= 999) pts.push([i * step + step / 2, later[i]]);
    });
    return pts;
}

function kdeRange(chains) {
    var p = 0;
    chains.forEach(function (c) { c.forEach(function (d) { p = Math.max(p, d[1]); }); });
    return [-0.05 * p, 1.05 * p];
}

// a, b, sigma
var kdes = [aKde, bKde, sigmaKde];
var traces = [aTrace, bTrace, sigmaTrace];
var tracesB = [aTraceB, bTraceB, sigmaTraceB];
var kdeX = [[-4.2, 5.63], [3.154, 4.735], [-0.135, 5.35]];
var kdeTicks = [aKdeTicks, bKdeTicks, sigmaKdeTicks];
var kdeDec = [0, 1, 0];
var traceY = [[-4.17, 5.64], [3.154, 4.74], [-0.1, 5.4]];
var traceTicks = [aTraceTicks, bTraceTicks, sigmaTraceTicks];
var traceDec = [1, 1, 0];

for (var r = 0; r < 3; r++) {
    var gl = addPanel(r, false, kdeX[r], kdeTicks[r], kdeDec[r], kdeRange(kdes[r]), null, 0);
    kdes[r].forEach(function (c, k) { series.push(line(gl, c, C0, chainDash[k], 1.3, 1, 0.3)); });
    var gr = addPanel(r, true, [0, 999], drawTicks, 0, traceY[r], traceTicks[r], traceDec[r]);
    traces[r].forEach(function (c, k) {
        series.push(line(gr, tracePoints(c, tracesB[r][k]), C0, chainDash[k], 0.9, 0.45));
    });
}

// mu
var muL = addPanel(3, false, [-1.5, 46.3], muKdeTicks, 0, [-6.3, 131.3], null, 0);
muKde.forEach(function (chains, p) {
    chains.forEach(function (ys, k) {
        var pts = ys.map(function (v, i) { return [muX[p][i], v]; });
        series.push(line(muL, pts, tab10[p], chainDash[k], 1.3, 1, 0.25));
    });
});
var muR = addPanel(3, true, [0, 999], drawTicks, 0, [-1.2, 46.4], muTraceTicks, 0);
muTrace.forEach(function (chains, p) {
    chains.forEach(function (ys, k) {
        series.push(line(muR, tracePoints(ys), tab10[p], k ? [1.2, 1.5] : 'solid', 1.1, 0.6));
    });
});

var chart = echarts.init(document.getElementById('chart'), null, {renderer: 'canvas'});
chart.setOption({
    animation: false,
    backgroundColor: '#fff',
    grid: grids,
    xAxis: xAxes,
    yAxis: yAxes,
    series: series,
    graphic: graphics
});
</script>
</body>
</html>
